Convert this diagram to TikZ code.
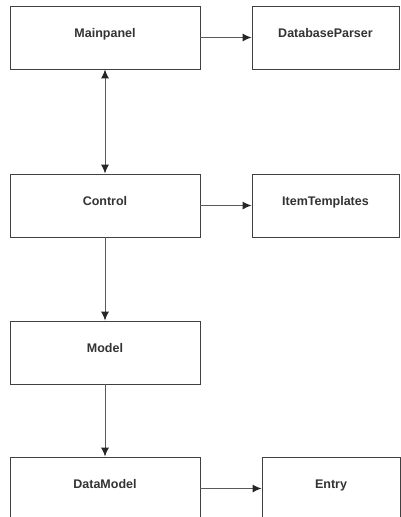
\documentclass[tikz,border=0pt]{standalone}
\usepackage{fontspec}
\setmainfont{Liberation Sans}
\usetikzlibrary{arrows.meta}
\begin{document}
\begin{tikzpicture}[x=1pt,y=-1pt,
	>={Latex[length=9pt,width=8pt,color=black!85]},
	block/.style={ rectangle, draw=black!75, line width=0.9pt, fill=white, inner sep=0pt, minimum width=190pt, minimum height=63pt, text height=9pt, text depth=9pt, text=black!80, font=\bfseries\fontsize{12.5}{14}\selectfont },
	blocks/.style={ block, minimum width=147pt },
	link/.style={ draw=black!65, line width=1pt, -> }
]

\useasboundingbox (0,0) rectangle (401,517);
\clip (0,0) rectangle (401,517);

\node at (105,37.5) (MP) [block] {Mainpanel};
\node at (325.5,37.5) (DP) [blocks] {DatabaseParser};
\node at (105,205.5) (C) [block] {Control};
\node at (325.5,205.5) (IT) [blocks] {ItemTemplates};
\node at (105,352.5) (M) [block] {Model};
\node at (105,488.5) (DM) [block] {DataModel};
\node at (331,488.5) (E) [block, minimum width=138pt] {Entry};
\draw[link, <->] (MP) -- (C);
\foreach \a/\b in {MP/DP,C/IT,DM/E} \draw[link] (\a) -- (\b);
\foreach \a/\b in {C/M,M/DM} \draw[link] (\a) -- (\b);

\end{tikzpicture}
\end{document}
